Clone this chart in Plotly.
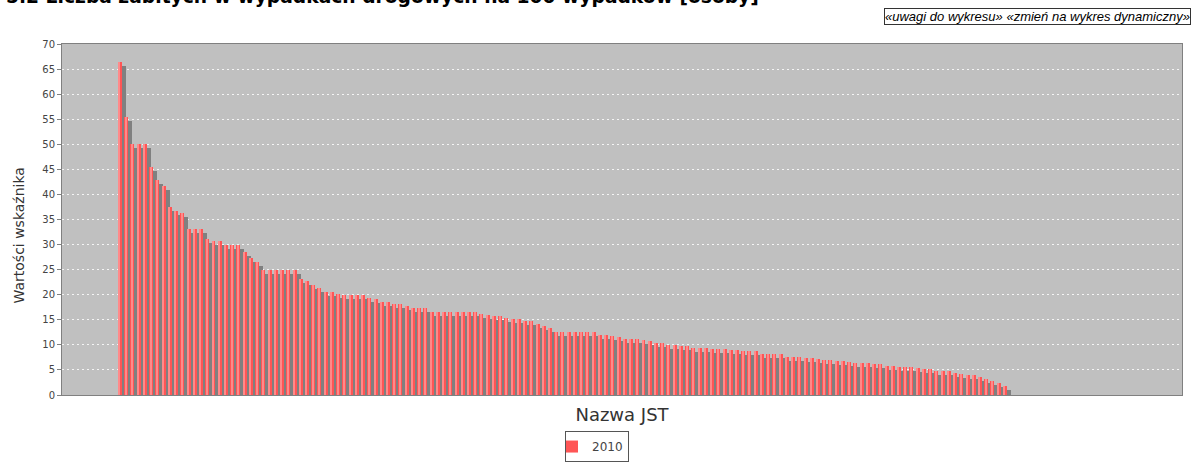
import plotly.graph_objects as go

# Values (sorted descending), year 2010
values_2010 = [
    66.5, 55.4, 50.0, 50.0, 50.0, 45.4, 42.8, 41.7, 37.4, 36.7,
    36.3, 33.2, 33.2, 33.2, 31.1, 30.7, 30.7, 30.0, 30.0, 30.0,
    28.6, 27.3, 26.6, 25.0, 25.0, 25.0, 25.0, 25.0, 25.0, 23.1,
    22.7, 21.9, 21.3, 20.6, 20.6, 20.2, 20.0, 20.0, 20.0, 20.0,
    19.4, 19.2, 18.6, 18.6, 18.2, 18.2, 17.7, 17.4, 17.4, 17.4,
    16.6, 16.6, 16.6, 16.6, 16.6, 16.6, 16.6, 16.6, 16.2, 15.9,
    15.8, 15.7, 15.3, 15.1, 15.1, 14.7, 14.7, 14.2, 13.7, 13.3,
    12.5, 12.5, 12.5, 12.5, 12.5, 12.5, 12.5, 11.95, 11.9, 11.8,
    11.5, 11.1, 11.1, 11.1, 11.0, 10.75, 10.4, 10.4, 10.0, 10.0,
    9.8, 9.8, 9.45, 9.4, 9.35, 9.2, 9.1, 9.1, 9.0, 9.0,
    8.8, 8.7, 8.7, 8.25, 8.2, 8.1, 8.1, 7.65, 7.6, 7.6,
    7.4, 7.35, 7.1, 7.05, 6.9, 6.8, 6.75, 6.6, 6.4, 6.4,
    6.4, 6.2, 6.2, 5.85, 5.85, 5.6, 5.55, 5.55, 5.35, 5.15,
    5.15, 4.8, 4.75, 4.75, 4.4, 4.15, 4.0, 4.0, 3.55, 3.15,
    2.75, 2.3, 1.8,
]
categories = list(range(1, len(values_2010) + 1))  # JST names are not shown on the axis
series_name = "2010"
y_ticks = [0, 5, 10, 15, 20, 25, 30, 35, 40, 45, 50, 55, 60, 65, 70]

title_text = "5.2 Liczba zabitych w wypadkach drogowych na 100 wypadków [osoby]"
links_text = "<i>«uwagi do wykresu» «zmień na wykres dynamiczny»</i>"
x_title = "Nazwa JST"
y_title = "Wartości wskaźnika"

# styling constants (pixel offsets converted to axis units)
BAR_W = 0.64
SHADOW_DX = 0.64
SHADOW_DY = 0.8

SANS = "DejaVu Sans, Verdana, sans-serif"

fig = go.Figure()
fig.add_trace(go.Bar(
    x=[c + SHADOW_DX for c in categories],
    y=[v - SHADOW_DY for v in values_2010],
    width=BAR_W, marker=dict(color="#808080", line=dict(width=0)),
    showlegend=False, hoverinfo="skip",
))
fig.add_trace(go.Bar(
    x=categories, y=values_2010, name=series_name,
    width=BAR_W, marker=dict(color="#FF5555", line=dict(width=0)),
))
fig.add_trace(go.Bar(
    x=[c - 0.08 for c in categories], y=values_2010,
    width=0.2, marker=dict(color="#FF8A8A", line=dict(width=0)),
    showlegend=False, hoverinfo="skip",
))

fig.update_layout(
    width=1193, height=463,
    margin=dict(l=62, r=11, t=44, b=68, autoexpand=False),
    paper_bgcolor="white", plot_bgcolor="#C0C0C0",
    barmode="overlay", bargap=0,
    font=dict(family=SANS, color="#444444"),
    showlegend=True,
    legend=dict(
        x=0.4777, y=-0.191, xanchor="center", yanchor="bottom",
        orientation="h", bordercolor="#555555", borderwidth=1,
        bgcolor="white", font=dict(size=12, color="#444444", family=SANS),
        itemwidth=30, tracegroupgap=0, indentation=-14,
    ),
    annotations=[
        dict(text="<b>" + title_text + "</b>", x=0, xref="paper", xanchor="left",
             xshift=-58, y=1, yref="paper", yanchor="middle", yshift=48,
             showarrow=False, font=dict(size=18.7, color="black", family=SANS)),
        dict(text=links_text, x=1, xref="paper", xanchor="left", xshift=-298,
             y=1, yref="paper", yanchor="middle", yshift=28, showarrow=False,
             font=dict(size=13, color="black", family="Liberation Sans, Arial, sans-serif"),
             bordercolor="#333333", borderwidth=1, borderpad=0, bgcolor="white"),
        dict(text=y_title, textangle=-90, x=0, xref="paper", xanchor="center",
             xshift=-44, y=0.5, yref="paper", yanchor="middle", yshift=-16,
             showarrow=False, font=dict(size=14, color="#333333", family=SANS)),
    ],
)
fig.update_xaxes(
    range=[-8.31, 171.41], showticklabels=False, ticks="", showgrid=False,
    zeroline=False, showline=True, linecolor="#808080", linewidth=1, mirror=True,
    title=dict(text=x_title, font=dict(size=18, color="#333333", family=SANS), standoff=13),
)
fig.update_yaxes(
    range=[0, 70], tickvals=y_ticks, ticks="outside", ticklen=4, tickcolor="#808080",
    showgrid=True, gridcolor="#F4F4F4", griddash="2px,3px", gridwidth=1,
    zeroline=False, showline=True, linecolor="#808080", linewidth=1, mirror=True,
    tickfont=dict(size=10, color="#444444", family=SANS),
)

fig.write_html("out.html", config={"displayModeBar": False},
               post_script="document.body.style.margin='0';")
